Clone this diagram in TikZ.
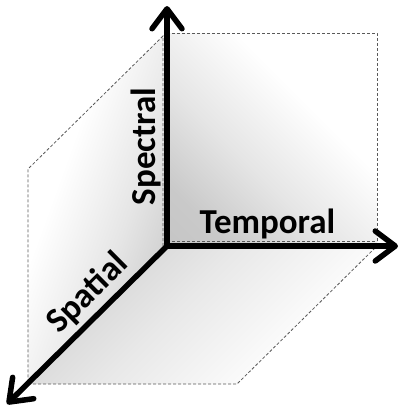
\documentclass[tikz,border=0pt]{standalone}
\usepackage{fontspec}
\setmainfont{Carlito}
\usetikzlibrary{arrows.meta}
\pgfdeclareverticalshading{fadeax}{100bp}{color(0bp)=(black!25); color(25bp)=(black!21); color(42bp)=(black!10); color(62bp)=(white); color(100bp)=(white)}
\pgfdeclareverticalshading{fadeaxsoft}{100bp}{color(0bp)=(black!22); color(25bp)=(black!18); color(45bp)=(black!9); color(70bp)=(white); color(100bp)=(white)}
\tikzset{
  axisline/.style={line width=5.5pt,-{Straight Barb[length=20pt,width=30pt,round]}},
  edge/.style={draw=black!65,line width=0.8pt,dash pattern=on 3pt off 2pt},
  lbl/.style={font=\fontsize{35}{40}\selectfont\bfseries,inner sep=0pt,anchor=base}
}
\begin{document}
\begin{tikzpicture}[x=1pt,y=-1pt]
\useasboundingbox (0,0) rectangle (401,408);
\fill[white] (0,0) rectangle (401,408);
% corners
\coordinate (O) at (167,246);
\coordinate (Vt) at (167,33);
\coordinate (Bk) at (377,33);
\coordinate (Br) at (377,246);
\coordinate (L1) at (163,36);
\coordinate (L0) at (163,246);
\coordinate (L2) at (28,169);
\coordinate (L3) at (28,384);
\coordinate (B2) at (237,384);
\coordinate (Bb0) at (167,241);
\coordinate (Bb1) at (377,241);
\coordinate (Ztip) at (167,6);
\coordinate (Xtip) at (398,246);
\coordinate (Stip) at (7,404);
% shaded planes
\shade[shading=fadeax,shading angle=-45]
  (O) -- (Vt) -- (Bk) -- (Br) -- cycle;
\shade[shading=fadeax,shading angle=70]
  (O) -- (L1) -- (L2) -- (L3) -- cycle;
\shade[shading=fadeaxsoft,shading angle=-135]
  (O) -- (Br) -- (B2) -- (L3) -- cycle;
% dashed edges
\draw[edge] (Vt) -- (Bk) -- (Br);
\draw[edge] (Bb0) -- (Bb1);
\draw[edge] (L0) -- (L1) -- (L2) -- (L3);
\draw[edge] (L3) -- (B2) -- (Br);
% axes
\draw[axisline] (O) -- (Ztip);
\draw[axisline] (O) -- (Xtip);
\draw[axisline] (O) -- (Stip);
% labels
\node[lbl] (temporal) at (267.5,233) {Temporal};
\node[lbl,rotate=90] (spectral) at (155,146.5) {Spectral};
\node[lbl,rotate=44.8] (spatial) at (94.4,300.2) {Spatial};
\end{tikzpicture}
\end{document}
